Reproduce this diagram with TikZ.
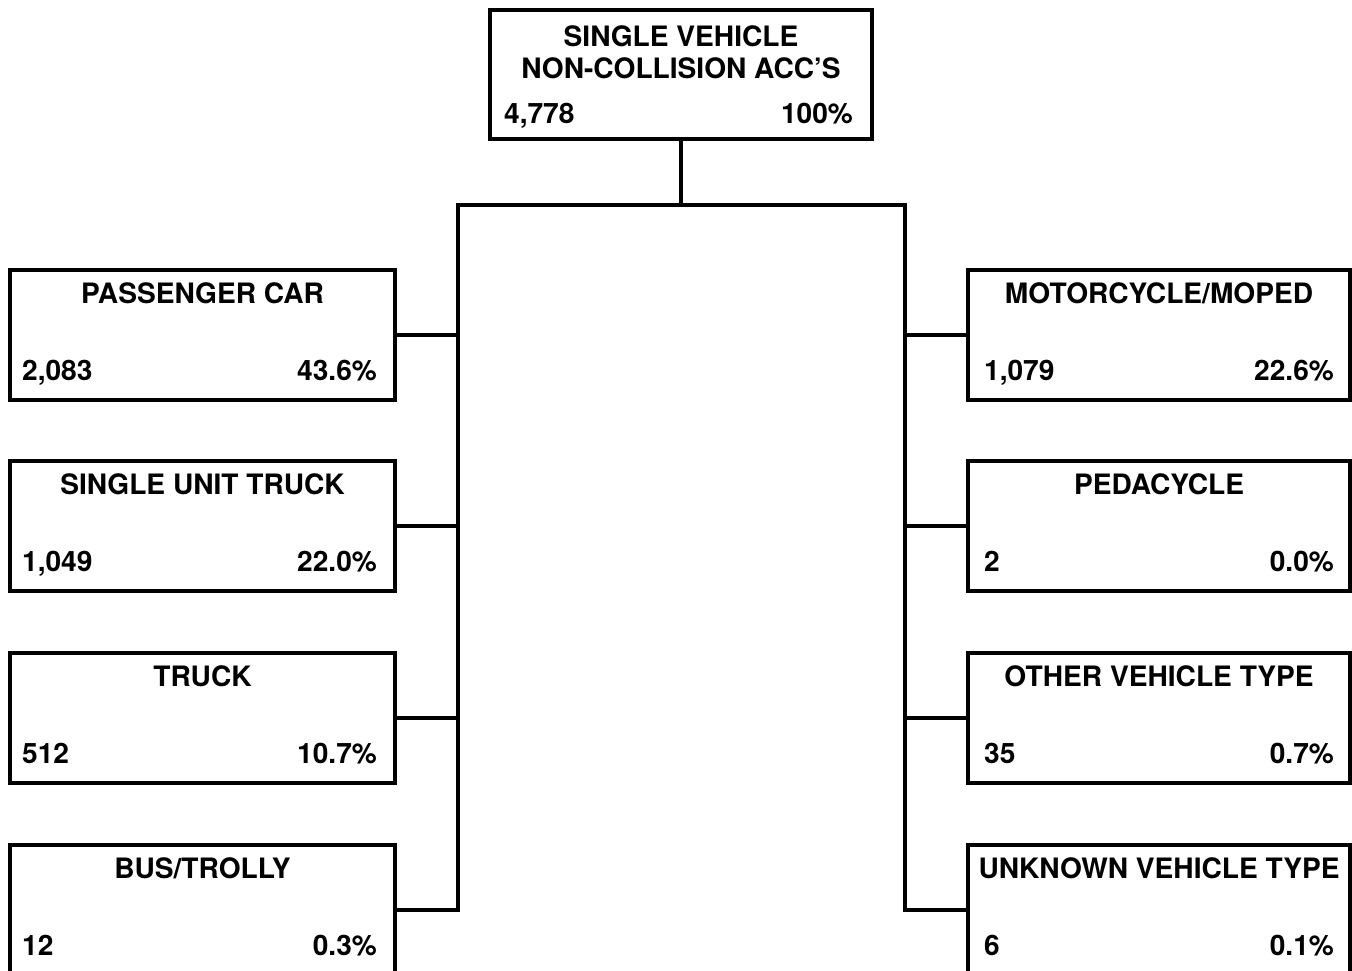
\documentclass[tikz,border=0pt]{standalone}
\usepackage{fontspec}
\setmainfont{TeX Gyre Heros}
\usetikzlibrary{positioning}

\begin{document}
\begin{tikzpicture}[
        vehbox/.style={draw=black, line width=0.9pt, minimum width=3.85cm, minimum height=1.30cm, inner sep=0pt},
        lbl/.style={inner sep=0pt, font=\fontsize{8}{10}\selectfont\bfseries},
        link/.style={draw=black, line width=0.9pt, line cap=rect}
    ]
        \useasboundingbox (0,0) rectangle (13.52,-9.71);

        % total at the top
        \node[vehbox, minimum width=3.82cm, minimum height=1.29cm] (total) at (6.81,-0.745) {};
        \node[lbl, below=0.38cm of total.north, anchor=base] (total-title1) {SINGLE VEHICLE};
        \node[lbl, below=0.32cm of total-title1.base, anchor=base] (total-title2) {NON-COLLISION ACC'S};
        \node[lbl, above right=0.17cm and 0.15cm of total.south west, anchor=base west] (total-count) {4,778};
        \node[lbl, above left=0.17cm and 0.20cm of total.south east, anchor=base east] (total-share) {100\%};

        \coordinate (hub) at (total.south |- 0,-2.05);
        \coordinate (lbus) at (4.58,-2.05);
        \coordinate (rbus) at (9.05,-2.05);

        % left column
        \foreach \nm/\yc/\ttl/\cnt/\pct in {
            car/-3.35/{PASSENGER CAR}/{2,083}/{43.6\%},
            sut/-5.26/{SINGLE UNIT TRUCK}/{1,049}/{22.0\%},
            truck/-7.18/{TRUCK}/{512}/{10.7\%},
            bus/-9.10/{BUS/TROLLY}/{12}/{0.3\%}}
        {
            \node[vehbox] (\nm) at (2.025,\yc) {};
            \node[lbl, below=0.355cm of \nm.north, anchor=base] (\nm-title) {\ttl};
            \node[lbl, above right=0.21cm and 0.13cm of \nm.south west, anchor=base west] (\nm-count) {\cnt};
            \node[lbl, above left=0.21cm and 0.19cm of \nm.south east, anchor=base east] (\nm-share) {\pct};
            \draw[link] (\nm.east) -- (\nm.east -| lbus);
        }

        % right column
        \foreach \nm/\yc/\ttl/\cnt/\pct in {
            moto/-3.35/{MOTORCYCLE/MOPED}/{1,079}/{22.6\%},
            pedal/-5.26/{PEDACYCLE}/{2}/{0.0\%},
            other/-7.18/{OTHER VEHICLE TYPE}/{35}/{0.7\%},
            unk/-9.10/{UNKNOWN VEHICLE TYPE}/{6}/{0.1\%}}
        {
            \node[vehbox, minimum width=3.82cm] (\nm) at (11.59,\yc) {};
            \node[lbl, below=0.355cm of \nm.north, anchor=base] (\nm-title) {\ttl};
            \node[lbl, above right=0.21cm and 0.17cm of \nm.south west, anchor=base west] (\nm-count) {\cnt};
            \node[lbl, above left=0.21cm and 0.17cm of \nm.south east, anchor=base east] (\nm-share) {\pct};
            \draw[link] (\nm.west) -- (\nm.west -| rbus);
        }

        % tree lines
        \draw[link] (total.south) -- (hub);
        \draw[link] (lbus |- bus.east) -- (lbus) -- (rbus) -- (rbus |- unk.east);
    \end{tikzpicture}
\end{document}
